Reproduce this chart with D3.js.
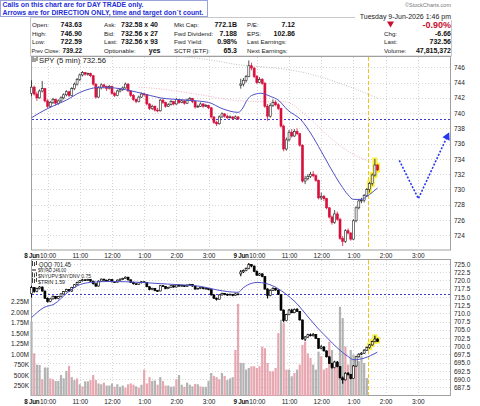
<!DOCTYPE html>
<html>
<head>
<meta charset="utf-8">
<script src="https://cdn.jsdelivr.net/npm/d3@7"></script>
<style>
  body { margin: 0; background: #fff; }
  svg { display: block; font-family: Arial, "Liberation Sans", sans-serif; }
</style>
</head>
<body>
<svg width="480" height="406"></svg>
<script>
// ---- data ----
// SPY 5 min bars [open, high, low, close], 8 Jun then 9 Jun
const spyDay1 = [
  [742.6,744.3,742.2,743.4],[743.4,743.6,742.3,742.5],[742.5,742.8,741.6,742.0],[742.0,743.1,741.9,742.9],
  [742.9,744.2,742.7,743.2],[743.2,743.3,741.4,741.6],[741.6,741.8,740.6,740.9],[740.9,741.6,740.7,741.4],
  [741.4,742.0,741.2,741.8],[741.8,741.9,741.0,741.3],[741.3,741.8,741.1,741.6],[741.6,742.2,741.4,742.0],
  [742.0,742.6,741.8,742.4],[742.4,743.0,742.2,742.8],[742.8,742.9,742.1,742.3],[742.3,743.4,742.2,743.2],
  [743.2,744.0,743.0,743.8],[743.8,744.6,743.6,744.4],[744.4,745.2,744.2,745.0],[745.0,745.5,744.8,745.3],
  [745.3,745.4,744.9,745.1],[745.1,745.3,744.9,745.2],[745.2,745.3,744.7,744.9],[744.9,745.0,743.6,743.8],
  [743.8,743.9,741.9,742.1],[742.1,743.5,742.0,743.3],[743.3,743.9,743.1,743.7],[743.7,743.8,743.2,743.5],
  [743.5,743.6,742.9,743.2],[743.2,743.7,743.1,743.5],[743.5,743.6,742.4,742.6],[742.6,742.8,742.1,742.3],
  [742.3,743.1,742.2,742.9],[742.9,743.3,742.7,743.1],[743.1,743.5,742.9,743.3],[743.3,744.0,743.2,743.8],
  [743.8,743.9,742.8,742.9],[742.9,743.0,742.1,742.3],[742.3,742.5,741.6,741.8],[741.8,741.9,741.3,741.5],
  [741.5,742.3,741.4,742.1],[742.1,742.7,742.0,742.5],[742.5,742.7,742.2,742.4],[742.4,742.5,741.0,741.2],
  [741.2,741.3,740.4,740.6],[740.6,741.1,740.4,740.9],[740.9,741.0,740.2,740.4],[740.4,740.7,740.1,740.3],
  [740.3,741.9,740.2,741.7],[741.7,741.9,741.2,741.4],[741.4,741.5,740.7,740.9],[740.9,741.3,740.8,741.1],
  [741.1,741.7,741.0,741.5],[741.5,741.6,741.0,741.2],[741.2,742.0,741.1,741.8],[741.8,741.9,741.2,741.4],
  [741.4,741.8,741.3,741.6],[741.6,741.7,741.1,741.3],[741.3,741.9,741.2,741.7],[741.7,742.1,741.6,741.9],
  [741.9,742.0,741.3,741.5],[741.5,741.6,740.6,740.8],[740.8,741.1,740.7,740.9],[740.9,741.4,740.8,741.2],
  [741.2,741.3,740.7,740.9],[740.9,741.2,740.8,741.0],[741.0,741.1,740.5,740.7],[740.7,740.8,739.3,739.5],
  [739.5,739.6,738.6,738.8],[738.8,739.0,738.3,738.6],[738.6,739.7,738.5,739.5],[739.5,740.1,739.4,739.9],
  [739.9,740.0,739.4,739.6],[739.6,739.8,739.2,739.4],[739.4,739.7,739.3,739.5],[739.5,739.6,739.1,739.3],
  [739.3,739.7,739.2,739.5],[739.5,739.6,739.1,739.22]
];
const spyDay2 = [
  [743.63,744.5,743.2,743.8],[743.8,744.6,743.5,744.3],[744.3,745.0,744.0,744.8],[744.8,746.9,744.7,746.2],
  [746.2,746.6,745.6,745.9],[745.9,746.0,744.6,744.8],[744.8,745.0,743.8,744.0],[744.0,744.7,743.9,744.4],
  [744.4,744.6,743.7,743.9],[743.9,744.1,740.7,740.9],[740.9,741.2,739.0,739.6],[739.6,741.3,739.4,741.0],
  [741.0,741.8,740.8,741.4],[741.4,741.7,740.9,741.1],[741.1,741.3,740.4,740.6],[740.6,740.7,738.1,738.3],
  [738.3,738.5,735.0,735.3],[735.3,736.8,735.1,736.5],[736.5,737.8,736.3,737.5],[737.5,737.9,736.8,737.0],
  [737.0,737.9,736.9,737.6],[737.6,738.0,737.1,737.3],[737.3,737.4,735.6,735.8],[735.8,735.9,730.9,731.1],
  [731.1,731.8,730.7,731.4],[731.4,732.0,731.2,731.7],[731.7,732.3,731.5,732.0],[732.0,732.4,731.6,731.8],
  [731.8,732.0,731.0,731.2],[731.2,731.3,728.7,728.9],[728.9,729.6,728.6,729.1],[729.1,729.3,728.5,728.8],
  [728.8,728.9,727.4,727.6],[727.6,727.7,726.2,726.4],[726.4,726.6,725.4,725.7],[725.7,727.3,725.5,726.8],
  [726.8,727.1,725.9,726.1],[726.1,726.3,723.4,723.6],[723.6,723.9,722.59,723.2],[723.2,724.8,723.0,724.6],
  [724.6,724.9,724.1,724.3],[724.3,724.4,723.3,723.5],[723.5,726.1,723.4,725.9],[725.9,727.8,725.7,727.6],
  [727.6,728.7,727.4,728.5],[728.5,728.9,728.2,728.6],[728.6,729.4,728.3,729.2],[729.2,730.2,729.0,730.0],
  [730.0,731.0,729.6,730.8],[730.8,732.1,730.5,731.9],[731.9,734.0,731.7,733.2],[733.2,733.3,732.4,732.56]
];
// SPY moving averages, [bar, value]
const spySma = [[0,739.4],[6,740.6],[13,741.7],[18,742.7],[22,743.2],[26,743.4],[33,743.2],[41,742.6],
  [48,742.0],[58,741.7],[66,741.4],[71,740.6],[77,740.1],[79,740.8],[80,741.5],[82,742.3],[85.5,742.6],
  [89,742.2],[92,741.7],[95.5,740.4],[100.5,739.1],[104,737.4],[108,735.0],[111.5,732.8],[115.3,730.6],
  [118,729.3],[120,728.7],[123,728.7],[125,729.1],[129,730.2]];
const spyMa2 = [[40,743.4],[47,743.2],[63,742.4],[78,741.6],[90,741.5],[94,741.5],[103,739.5],[110,737.2],
  [118,735.0],[126.5,733.6]];
const spyMa3 = [[56,747.4],[66,747.0],[78,746.3],[85,746.1],[103,745.2],[115,743.9],[129.5,741.9]];

// QQQ 5 min bars [open, high, low, close]
const qqqDay1 = [
  [716.0,718.4,714.8,717.8],[717.8,718.0,716.3,716.6],[716.6,717.8,716.4,717.5],[717.5,718.3,717.3,718.0],
  [718.0,718.2,716.6,716.8],[716.8,716.9,714.4,714.6],[714.6,714.8,713.3,713.6],[713.6,714.6,713.4,714.4],
  [714.4,715.4,714.2,715.2],[715.2,715.3,714.3,714.5],[714.5,715.3,714.3,715.1],[715.1,716.1,714.9,715.9],
  [715.9,716.8,715.7,716.6],[716.6,717.5,716.4,717.3],[717.3,717.4,716.6,716.8],[716.8,718.1,716.6,717.9],
  [717.9,718.9,717.7,718.7],[718.7,719.6,718.5,719.4],[719.4,720.1,719.2,719.9],[719.9,720.5,719.7,720.2],
  [720.2,720.4,719.8,720.0],[720.0,720.5,719.8,720.3],[720.3,720.4,719.6,719.8],[719.8,719.9,718.8,719.0],
  [719.0,719.1,718.0,718.3],[718.3,720.0,718.2,719.8],[719.8,720.6,719.6,720.4],[720.4,720.5,719.9,720.1],
  [720.1,720.2,719.6,719.8],[719.8,720.5,719.7,720.3],[720.3,720.4,719.4,719.6],[719.6,719.8,719.3,719.5],
  [719.5,720.3,719.4,720.1],[720.1,720.6,719.9,720.4],[720.4,720.8,720.2,720.6],[720.6,721.2,720.5,721.0],
  [721.0,721.1,720.0,720.2],[720.2,720.3,719.2,719.4],[719.4,719.6,718.8,719.0],[719.0,719.1,718.6,718.8],
  [718.8,719.5,718.7,719.3],[719.3,719.8,719.1,719.6],[719.6,719.7,719.2,719.4],[719.4,719.5,717.9,718.1],
  [718.1,718.2,717.0,717.2],[717.2,717.8,717.0,717.6],[717.6,717.7,716.7,716.9],[716.9,717.1,716.6,716.8],
  [716.8,718.6,716.7,718.4],[718.4,718.6,718.0,718.2],[718.2,718.3,717.3,717.5],[717.5,718.1,717.4,717.9],
  [717.9,718.6,717.8,718.4],[718.4,718.5,717.8,718.0],[718.0,718.8,717.9,718.6],[718.6,718.7,718.1,718.3],
  [718.3,718.7,718.2,718.5],[718.5,718.6,718.0,718.2],[718.2,718.8,718.1,718.6],[718.6,719.0,718.5,718.8],
  [718.8,718.9,718.1,718.3],[718.3,718.4,717.2,717.4],[717.4,717.8,717.3,717.6],[717.6,718.1,717.5,717.9],
  [717.9,718.0,717.3,717.5],[717.5,717.8,717.4,717.6],[717.6,717.7,717.0,717.2],[717.2,717.3,715.4,715.6],
  [715.6,715.7,714.4,714.6],[714.6,714.8,713.9,714.3],[714.3,715.8,714.2,715.6],[715.6,716.3,715.4,716.1],
  [716.1,716.2,715.5,715.8],[715.8,716.0,715.3,715.6],[715.6,716.0,715.5,715.8],[715.8,715.9,715.2,715.5],
  [715.5,716.1,715.4,715.9],[715.9,716.0,715.5,715.8]
];
const qqqDay2 = [
  [722.0,723.2,721.3,722.6],[722.6,723.3,722.3,723.0],[723.0,723.9,722.8,723.6],[723.6,725.3,723.4,724.8],
  [724.8,725.0,724.0,724.4],[724.4,724.5,722.6,722.8],[722.8,723.0,721.4,721.6],[721.6,722.3,721.4,722.0],
  [722.0,722.2,721.0,721.2],[721.2,721.3,717.2,717.4],[717.4,717.6,714.5,715.4],[715.4,717.3,715.2,717.0],
  [717.0,717.9,716.8,717.6],[717.6,717.8,716.9,717.1],[717.1,717.2,715.6,715.8],[715.8,715.9,710.8,711.0],
  [711.0,711.2,707.3,707.8],[707.8,709.9,707.6,709.6],[709.6,711.3,709.4,711.0],[711.0,711.4,710.0,710.2],
  [710.2,711.5,710.0,711.2],[711.2,711.6,710.4,710.6],[710.6,710.7,707.8,708.0],[708.0,708.1,702.0,702.2],
  [702.2,703.1,701.6,702.8],[702.8,703.8,702.6,703.5],[703.5,703.9,703.0,703.2],[703.2,704.0,703.0,703.6],
  [703.6,703.7,702.2,702.4],[702.4,702.5,699.2,699.4],[699.4,700.3,699.1,699.8],[699.8,700.0,698.4,698.6],
  [698.6,698.7,696.6,696.8],[696.8,697.0,694.6,694.8],[694.8,695.0,693.2,693.5],[693.5,695.6,693.3,695.2],
  [695.2,695.5,693.6,693.8],[693.8,694.0,690.2,690.4],[690.4,690.8,688.6,689.8],[689.8,692.1,689.6,691.8],
  [691.8,692.2,691.1,691.4],[691.4,691.6,690.0,690.2],[690.2,694.3,690.1,694.0],[694.0,697.1,693.8,696.8],
  [696.8,697.9,696.6,697.6],[697.6,698.2,697.3,697.9],[697.9,699.1,697.7,698.8],[698.8,699.9,698.6,699.6],
  [699.6,700.7,699.3,700.4],[700.4,701.7,700.2,701.4],[701.4,703.2,701.2,702.2],[702.2,702.4,701.3,701.45]
];
const qqqSma = [[0,708.7],[4.7,711.8],[8.4,712.8],[13.4,716.3],[17.1,718.4],[22,719.4],[29.6,719.7],
  [40.7,719.4],[50.7,718.9],[63,718.2],[69.3,717.1],[77,716.4],[79,717.8],[80.5,718.6],[84.2,719.4],
  [90.4,718.2],[94.1,716.3],[99.1,712.8],[102.8,709.2],[106.6,705.6],[110.3,702.5],[114,699.5],
  [117.8,697.0],[120.2,695.9],[124,696.4],[128.9,698.2]];

// volume (millions) and its colour, g = up, p = down
const volDay1 = [1.78,1.02,0.75,0.74,0.40,0.68,0.68,0.42,0.40,0.36,0.36,0.50,0.42,0.60,0.72,0.45,0.38,0.42,
  0.28,0.23,0.35,0.35,0.38,0.50,0.38,0.30,0.28,0.32,0.25,0.25,0.30,0.22,0.28,0.22,0.25,0.20,0.28,0.30,0.27,
  0.23,0.20,0.27,0.63,0.30,0.45,0.36,0.37,0.27,0.45,0.36,0.25,0.25,0.22,0.23,0.40,0.50,0.27,0.22,0.32,0.27,
  0.23,0.29,0.28,0.23,0.22,0.22,0.36,0.55,0.48,0.45,0.40,0.55,0.48,0.38,0.42,0.45,1.10,2.20];
const volDay2 = [0.79,0.79,0.63,0.67,0.71,0.71,0.67,0.71,1.18,1.14,0.79,0.59,0.59,0.67,1.50,1.82,1.74,0.63,
  0.63,0.47,0.55,0.63,0.75,1.22,1.30,1.02,0.91,0.75,0.63,1.06,0.95,0.63,0.67,1.30,1.10,0.67,0.75,2.13,1.86,
  1.18,0.75,1.10,0.99,0.83,0.83,0.95,0.79,0.43];
const volColDay1 = "gpggpggppgggggpggpgpggpppggpgggpgggppppgpgpppggpgppgggpggpgggpgpggggpppgpgggppg";
const volColDay2 = "gggpppppppppppgppggpgpppppgggppppgppggppggpggggggg";

const dayLabels = ["8 Jun", "9 Jun"];
const hourLabels = ["10:00", "11:00", "12:00", "1:00", "2:00", "3:00"];
const barsPerDay = 78;
const markerBar = 125.4;          // yellow dashed line
const spyPrevClose = 739.22;
const qqqPrevClose = 715.8;
const arrowPath = [[137.1,733.8],[144.2,728.8],[155.7,737.5]];
const spyTicks = [724,726,728,730,732,734,736,738,740,742,744,746];
const qqqTicks = [687.5,690,692.5,695,697.5,700,702.5,705,707.5,710,712.5,715,717.5,720,722.5,725];
const volTicks = [0.25,0.5,0.75,1,1.25,1.5,1.75,2,2.25];

const infoCols = [
  { x: 32, vx: 82, anchor: "end", labels: ["Open:", "High:", "Low:", "Prev Close:"], values: ["743.63", "746.90", "722.59", "739.22"] },
  { x: 104, vx: 121, anchor: "start", labels: ["Ask:", "Bid:", "Last:", "Optionable:"], values: ["732.58 x 40", "732.56 x 27", "732.56 x 93", ""] },
  { x: 174, vx: 237, anchor: "end", labels: ["Mkt Cap:", "Fwd Dividend:", "Fwd Yield:", "SCTR (ETF):"], values: ["772.1B", "7.188", "0.98%", "65.3"] },
  { x: 247, vx: 295, anchor: "end", labels: ["P/E:", "EPS:", "Last Earnings:", "Next Earnings:"], values: ["7.12", "102.86", "", ""] },
  { x: 384, vx: 451, anchor: "end", labels: ["", "Chg:", "Last:", "Volume:"], values: ["-0.90%", "-6.66", "732.56", "47,815,372"] }
];

// ---- drawing ----
const svg = d3.select("svg");
const spy = spyDay1.concat(spyDay2);
const qqq = qqqDay1.concat(qqqDay2);
const vol = volDay1.concat(volDay2);
const volCol = volColDay1 + volColDay2;

const left = 31, right = 451;
const main = { top: 56, bottom: 250.5 };
const low = { top: 259, bottom: 396 };

const x = d3.scaleLinear().domain([0, 156]).range([31.5, 450]);
const ySpy = d3.scaleLinear().domain([724, 746]).range([235.3, 67.3]);
const yQqq = d3.scaleLinear().domain([687.5, 725]).range([387.4, 264]);
const yVol = d3.scaleLinear().domain([0, 2.25]).range([396, 301.8]);

const hourBars = [];
dayLabels.forEach((d, di) => hourLabels.forEach((h, hi) => hourBars.push(di * barsPerDay + 6 + 12 * hi)));

// header box
svg.append("rect").attr("x", 30.5).attr("y", 17.5).attr("width", 421).attr("height", 38.5)
  .attr("fill", "#fff").attr("stroke", "#c8c8c8");
svg.append("rect").attr("x", 355).attr("y", 12).attr("width", 97).attr("height", 8).attr("fill", "#fff");
svg.append("text").attr("x", 451).attr("y", 18.5).attr("text-anchor", "end")
  .attr("font-size", 7).attr("fill", "#222").text("Tuesday  9-Jun-2026  1:46 pm");
svg.append("text").attr("x", 451).attr("y", 7).attr("text-anchor", "end")
  .attr("font-size", 5.5).attr("fill", "#777").text("\u00a9StockCharts.com");

svg.append("rect").attr("x", 0.5).attr("y", 0.5).attr("width", 207).attr("height", 16)
  .attr("fill", "#fff").attr("stroke", "#9aa4d8");
svg.append("text").attr("x", 2.5).attr("y", 7).attr("font-size", 6.8).attr("font-weight", "bold")
  .attr("fill", "#1f2fd8").attr("textLength", 141).attr("lengthAdjust", "spacingAndGlyphs")
  .text("Calls on this chart are for DAY TRADE only.");
svg.append("text").attr("x", 2.5).attr("y", 14.8).attr("font-size", 6.8).attr("font-weight", "bold")
  .attr("fill", "#1f2fd8").attr("textLength", 201).attr("lengthAdjust", "spacingAndGlyphs")
  .text("Arrows are for DIRECTION ONLY, time and target don`t count.");

const rowY = [27, 35.5, 44, 52.5];
infoCols.forEach(c => {
  c.labels.forEach((l, r) => {
    const lt = svg.append("text").attr("x", c.x).attr("y", rowY[r]).attr("font-size", 6.2).attr("fill", "#222").text(l);
    if (l === "Prev Close:") lt.attr("x", 31.5).attr("font-size", 5.5);
    if (c.values[r]) {
      const t = svg.append("text").attr("x", c.vx).attr("y", rowY[r]).attr("text-anchor", c.anchor)
        .attr("font-size", 7).attr("font-weight", "bold").attr("fill", "#111").text(c.values[r]);
      if (c.values[r].startsWith("-0.90")) t.attr("font-size", 9).attr("fill", "#c8102e").attr("y", rowY[r] + 0.5);
      if (l === "Prev Close:") t.attr("font-size", 6.4);
    }
  });
});
svg.append("text").attr("x", 160.5).attr("y", rowY[3]).attr("text-anchor", "end")
  .attr("font-size", 7).attr("font-weight", "bold").attr("fill", "#111").text("yes");
svg.append("path").attr("d", "M387,21.5 L394,21.5 L390.5,27.5 Z").attr("fill", "#c8102e");

// panels
function panel(p) {
  svg.append("rect").attr("x", left + 0.5).attr("y", p.top + 0.5)
    .attr("width", right - left - 1).attr("height", p.bottom - p.top - 1)
    .attr("fill", "#fff").attr("stroke", "#a0a0a0");
}
panel(main);
panel(low);

const grid = svg.append("g").attr("stroke", "#d6d6d6").attr("stroke-dasharray", "1,2");
spyTicks.forEach(v => grid.append("line").attr("x1", left + 1).attr("x2", right - 1)
  .attr("y1", Math.round(ySpy(v)) + 0.5).attr("y2", Math.round(ySpy(v)) + 0.5));
qqqTicks.forEach(v => grid.append("line").attr("x1", left + 1).attr("x2", right - 1)
  .attr("y1", Math.round(yQqq(v)) + 0.5).attr("y2", Math.round(yQqq(v)) + 0.5));
hourBars.forEach(b => {
  const xx = Math.round(x(b)) + 0.5;
  grid.append("line").attr("x1", xx).attr("x2", xx).attr("y1", main.top + 1).attr("y2", main.bottom - 1);
  grid.append("line").attr("x1", xx).attr("x2", xx).attr("y1", low.top + 1).attr("y2", low.bottom - 1);
});

// axes
function styleAxis(g) {
  g.select(".domain").remove();
  g.selectAll("text").attr("font-size", 6.5).attr("fill", "#222").attr("font-family", "Arial, 'Liberation Sans', sans-serif");
}
svg.append("g").attr("transform", `translate(${right + 1},0)`)
  .call(d3.axisRight(ySpy).tickValues(spyTicks).tickSize(0).tickPadding(2).tickFormat(d3.format("d")))
  .call(styleAxis);
svg.append("g").attr("transform", `translate(${right + 1},0)`)
  .call(d3.axisRight(yQqq).tickValues(qqqTicks).tickSize(0).tickPadding(2).tickFormat(d3.format(".1f")))
  .call(styleAxis);
svg.append("g").attr("transform", `translate(${left - 1},0)`)
  .call(d3.axisLeft(yVol).tickValues(volTicks).tickSize(0).tickPadding(1)
    .tickFormat(v => v < 1 ? Math.round(v * 1000) + "K" : v.toFixed(2) + "M"))
  .call(styleAxis);

function timeAxis(yPos) {
  const g = svg.append("g").attr("transform", `translate(0,${yPos})`)
    .call(d3.axisBottom(x).tickValues(hourBars).tickSize(0).tickPadding(1.5)
      .tickFormat((d, i) => hourLabels[i % hourLabels.length]))
    .call(styleAxis);
  dayLabels.forEach((d, di) => {
    svg.append("text").attr("x", x(di * barsPerDay + 6) - 8.3).attr("y", yPos + 6.3)
      .attr("text-anchor", "end").attr("font-size", 6.3).attr("font-weight", "bold")
      .attr("letter-spacing", -0.3).attr("fill", "#111").text(d);
  });
  return g;
}
timeAxis(main.bottom + 1);
timeAxis(low.bottom + 2);

// volume bars
svg.append("g").selectAll("rect").data(vol).join("rect")
  .attr("x", (d, i) => x(i) - 1.1).attr("width", 2.2)
  .attr("y", d => yVol(d)).attr("height", d => yVol(0) - yVol(d))
  .attr("fill", (d, i) => volCol[i] === "p" ? "#e7a7b0" : "#b3b3b3");

// panel titles
function icon(xx, yy) {
  const g = svg.append("g").attr("stroke", "#111").attr("stroke-width", 0.8);
  g.append("line").attr("x1", xx).attr("x2", xx).attr("y1", yy - 3).attr("y2", yy + 2);
  g.append("line").attr("x1", xx + 2).attr("x2", xx + 2).attr("y1", yy - 2).attr("y2", yy + 2);
  g.append("line").attr("x1", xx + 4).attr("x2", xx + 4).attr("y1", yy - 3).attr("y2", yy + 1);
}
icon(33, 60);
svg.append("text").attr("x", 39).attr("y", 62.5).attr("font-size", 7).attr("fill", "#222")
  .attr("textLength", 67).attr("lengthAdjust", "spacingAndGlyphs").text("SPY (5 min) 732.56");
const lowLegend = [["QQQ 701.45", 266.5, 7, 32], ["$NYAD 246.00", 272, 5.5, 28], ["$NYUPV:$NYDNV 0.75", 277.8, 5.5, 53], ["$TRIN 1.59", 283.5, 5.5, 27]];
lowLegend.forEach((l, i) => {
  if (i === 1) svg.append("line").attr("x1", 32).attr("x2", 36).attr("y1", 270).attr("y2", 270).attr("stroke", "#111");
  else icon(32.5, l[1] - 2.5);
  svg.append("text").attr("x", i === 0 ? 39 : 38).attr("y", l[1]).attr("font-size", l[2]).attr("fill", "#222")
    .attr("textLength", l[3]).attr("lengthAdjust", "spacingAndGlyphs").text(l[0]);
});

// prev close lines
svg.append("line").attr("x1", left + 1).attr("x2", right - 1)
  .attr("y1", Math.round(ySpy(spyPrevClose)) + 0.5).attr("y2", Math.round(ySpy(spyPrevClose)) + 0.5)
  .attr("stroke", "#3a3ad0").attr("stroke-dasharray", "2,2");
svg.append("line").attr("x1", left + 1).attr("x2", right - 1)
  .attr("y1", Math.round(yQqq(qqqPrevClose)) + 0.5).attr("y2", Math.round(yQqq(qqqPrevClose)) + 0.5)
  .attr("stroke", "#3a3ad0").attr("stroke-dasharray", "2,2");

// moving averages
function maLine(data, y, color, dash, width) {
  svg.append("path").datum(data)
    .attr("d", d3.line().x(d => x(d[0])).y(d => y(d[1])).curve(d3.curveMonotoneX))
    .attr("fill", "none").attr("stroke", color).attr("stroke-width", width)
    .attr("stroke-dasharray", dash);
}
maLine(spyMa3, ySpy, "#b9c9b9", "1,1.5", 1);
maLine(spyMa2, ySpy, "#efb3bf", "1,1.5", 1);

// yellow marker line
[main, low].forEach(p => svg.append("line")
  .attr("x1", Math.round(x(markerBar)) + 0.5).attr("x2", Math.round(x(markerBar)) + 0.5)
  .attr("y1", p.top + 1).attr("y2", p.bottom - 1)
  .attr("stroke", "#f3c316").attr("stroke-dasharray", "4,2"));

// candles
function candles(bars, y, upFill, upStroke, downFill, downStroke, wickW) {
  const g = svg.append("g");
  // highlight bars after the marker
  g.selectAll(".hl").data(bars.map((d, i) => [d, i]).filter(d => d[1] > markerBar)).join("rect")
    .attr("x", d => x(d[1]) - 2.6).attr("width", 5.2)
    .attr("y", d => y(d[0][1]) - 1.5).attr("height", d => y(d[0][2]) - y(d[0][1]) + 3)
    .attr("fill", "#f6f03c").attr("opacity", 0.9);
  bars.forEach((d, i) => {
    const [o, h, l, c] = d;
    const up = c >= o;
    const xx = x(i);
    g.append("line").attr("x1", xx).attr("x2", xx).attr("y1", y(h)).attr("y2", y(l))
      .attr("stroke", up ? upStroke : downStroke).attr("stroke-width", wickW);
    const top = y(Math.max(o, c)), bot = y(Math.min(o, c));
    g.append("rect").attr("x", xx - 1).attr("width", 2)
      .attr("y", top).attr("height", Math.max(0.8, bot - top))
      .attr("fill", up ? upFill : downFill).attr("stroke", up ? upStroke : downStroke)
      .attr("stroke-width", 0.6);
  });
}
candles(spy, ySpy, "#fff", "#222", "#d80f3c", "#d80f3c", 0.8);
maLine(spySma, ySpy, "#5050c8", null, 1);
candles(qqq, yQqq, "#fff", "#000", "#000", "#000", 1.1);
maLine(qqqSma, yQqq, "#5050c8", null, 1);

// direction arrow
const ap = arrowPath.map(d => [x(d[0]), ySpy(d[1])]);
svg.append("path").attr("d", d3.line()(ap.map((p, i, a) => {
    if (i < a.length - 1) return p;
    const q = a[i - 1], dx = p[0] - q[0], dy = p[1] - q[1], len = Math.hypot(dx, dy);
    return [p[0] - dx / len * 6, p[1] - dy / len * 6];
  })))
  .attr("fill", "none").attr("stroke", "#2637ee").attr("stroke-width", 1.6).attr("stroke-dasharray", "2,1.6");
{
  const p = ap[2], q = ap[1];
  const dx = p[0] - q[0], dy = p[1] - q[1], len = Math.hypot(dx, dy);
  const ux = dx / len, uy = dy / len;
  const bx = p[0] - ux * 7.5, by = p[1] - uy * 7.5;
  svg.append("path")
    .attr("d", `M${p[0]},${p[1]} L${bx - uy * 4},${by + ux * 4} L${bx + uy * 4},${by - ux * 4} Z`)
    .attr("fill", "#2637ee");
}
</script>
</body>
</html>
